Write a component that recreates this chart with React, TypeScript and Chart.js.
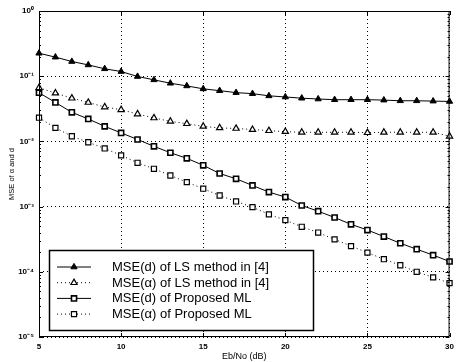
import React, { useEffect, useRef } from 'react';
import { Chart, registerables } from 'chart.js';

Chart.register(...registerables);

const ebNo = [5, 6, 7, 8, 9, 10, 11, 12, 13, 14, 15, 16, 17, 18, 19, 20, 21, 22, 23, 24, 25, 26, 27, 28, 29, 30];
const mseDLS = [0.225, 0.196, 0.168, 0.149, 0.130, 0.118, 0.099, 0.088, 0.078, 0.071, 0.064, 0.060, 0.056, 0.054, 0.050, 0.048, 0.046, 0.0447, 0.0436, 0.0436, 0.0436, 0.043, 0.042, 0.042, 0.0415, 0.041];
const mseALS = [0.0665, 0.055, 0.046, 0.0396, 0.0337, 0.0306, 0.0263, 0.0229, 0.0203, 0.0187, 0.017, 0.0161, 0.0158, 0.0152, 0.0146, 0.0141, 0.0138, 0.0138, 0.0138, 0.0138, 0.0136, 0.0138, 0.0138, 0.0138, 0.0138, 0.012];
const mseDML = [0.0557, 0.0396, 0.0279, 0.0221, 0.017, 0.0135, 0.0107, 0.0084, 0.0067, 0.0055, 0.0043, 0.00322, 0.00267, 0.00211, 0.00167, 0.0014, 0.00104, 0.00085, 0.00068, 0.000535, 0.000437, 0.000347, 0.000274, 0.000222, 0.00018, 0.000144];
const mseAML = [0.0231, 0.0161, 0.0120, 0.0097, 0.0078, 0.0061, 0.0047, 0.0038, 0.0030, 0.00237, 0.00188, 0.00148, 0.0012, 0.00098, 0.00076, 0.00062, 0.00049, 0.0004, 0.000314, 0.000248, 0.000197, 0.000156, 0.000126, 0.0001, 0.000082, 0.000067];

const seriesLabels = [
  'MSE(d) of LS method in [4]',
  'MSE(\u03b1) of LS method in [4]',
  'MSE(d) of Proposed ML',
  'MSE(\u03b1) of Proposed ML',
];
const xTicks = [5, 10, 15, 20, 25, 30];
const yExponents = [-5, -4, -3, -2, -1, 0];
const xTitle = 'Eb/No (dB)';
const yTitle = 'MSE of \u03b1 and d';

const SUP: Record<string, string> = { '-': '\u207b', '0': '\u2070', '1': '\u00b9', '2': '\u00b2', '3': '\u00b3', '4': '\u2074', '5': '\u2075' };
const FONT = '"Liberation Sans", Arial, sans-serif';

function drawMarker(ctx: CanvasRenderingContext2D, style: string, x: number, y: number, r: number) {
  ctx.beginPath();
  if (style === 'triangle') {
    let rad = 0;
    ctx.moveTo(x + Math.sin(rad) * r, y - Math.cos(rad) * r);
    rad += (2 * Math.PI) / 3;
    ctx.lineTo(x + Math.sin(rad) * r, y - Math.cos(rad) * r);
    rad += (2 * Math.PI) / 3;
    ctx.lineTo(x + Math.sin(rad) * r, y - Math.cos(rad) * r);
    ctx.closePath();
  } else {
    const s = r * Math.SQRT1_2;
    ctx.rect(x - s, y - s, 2 * s, 2 * s);
  }
}

const framePlugin = {
  id: 'frame',
  afterDraw(chart: any) {
    const { ctx, chartArea: a, scales } = chart;
    ctx.save();
    ctx.strokeStyle = '#000';
    ctx.lineWidth = 1;
    ctx.setLineDash([]);
    ctx.strokeRect(a.left + 0.5, a.top + 0.5, a.right - a.left - 1, a.bottom - a.top - 1);
    ctx.beginPath();
    for (const v of xTicks) {
      const px = Math.round(scales.x.getPixelForValue(v)) + 0.5;
      ctx.moveTo(px, a.bottom); ctx.lineTo(px, a.bottom - 4);
      ctx.moveTo(px, a.top); ctx.lineTo(px, a.top + 4);
    }
    for (const e of yExponents) {
      for (let m = 1; m <= 9; m++) {
        if (e === 0 && m > 1) break;
        const py = Math.round(scales.y.getPixelForValue(m * Math.pow(10, e))) + 0.5;
        const len = m === 1 ? 4 : 2;
        ctx.moveTo(a.left, py); ctx.lineTo(a.left + len, py);
        ctx.moveTo(a.right, py); ctx.lineTo(a.right - len, py);
      }
    }
    ctx.stroke();

    // legend box
    const bx = a.left + 10, by = a.bottom - 87, bw = 264, bh = 80;
    ctx.fillStyle = '#fff';
    ctx.fillRect(bx, by, bw, bh);
    ctx.lineWidth = 1.5;
    ctx.strokeRect(bx + 0.5, by + 0.5, bw, bh);
    ctx.font = '13px ' + FONT;
    ctx.textBaseline = 'middle';
    ctx.textAlign = 'left';
    chart.data.datasets.forEach((ds: any, i: number) => {
      const ry = by + 17 + i * 15.7;
      ctx.strokeStyle = '#000';
      ctx.lineWidth = 1;
      ctx.setLineDash(ds.borderDash || []);
      ctx.beginPath();
      ctx.moveTo(bx + 8, ry); ctx.lineTo(bx + 42, ry);
      ctx.stroke();
      ctx.setLineDash([]);
      drawMarker(ctx, ds.pointStyle, bx + 25, ry, ds.pointRadius);
      ctx.fillStyle = ds.pointBackgroundColor;
      ctx.fill();
      ctx.lineWidth = ds.pointBorderWidth;
      ctx.stroke();
      ctx.fillStyle = '#000';
      ctx.fillText(ds.label, bx + 63, ry + 0.5);
    });
    ctx.restore();
  },
};

export default function App() {
  const ref = useRef<HTMLCanvasElement>(null);
  useEffect(() => {
    document.body.style.margin = '0';
    const mk = (vals: number[]) => ebNo.map((x, i) => ({ x, y: vals[i] }));
    const chart = new Chart(ref.current!, {
      type: 'line',
      data: {
        datasets: [
          { label: seriesLabels[0], data: mk(mseDLS), borderColor: '#000', borderWidth: 1, borderDash: [], pointStyle: 'triangle', pointRadius: 3.6, pointBackgroundColor: '#000', pointBorderColor: '#000', pointBorderWidth: 1, clip: false },
          { label: seriesLabels[1], data: mk(mseALS), borderColor: '#000', borderWidth: 1, borderDash: [1, 3], pointStyle: 'triangle', pointRadius: 3.6, pointBackgroundColor: '#fff', pointBorderColor: '#000', pointBorderWidth: 1.2, clip: false },
          { label: seriesLabels[2], data: mk(mseDML), borderColor: '#000', borderWidth: 1, borderDash: [], pointStyle: 'rect', pointRadius: 3.6, pointBackgroundColor: '#fff', pointBorderColor: '#000', pointBorderWidth: 1.6, clip: false },
          { label: seriesLabels[3], data: mk(mseAML), borderColor: '#000', borderWidth: 1, borderDash: [1, 3], pointStyle: 'rect', pointRadius: 3.6, pointBackgroundColor: '#fff', pointBorderColor: '#000', pointBorderWidth: 1.2, clip: false },
        ] as any,
      },
      options: {
        animation: false,
        responsive: false,
        layout: { padding: { top: 11, right: 4, left: 0, bottom: 0 } },
        plugins: { legend: { display: false }, tooltip: { enabled: false } },
        scales: {
          x: {
            type: 'linear',
            min: 5,
            max: 30,
            afterBuildTicks: (s: any) => { s.ticks = xTicks.map((v) => ({ value: v })); },
            afterFit: (s: any) => { s.height = 25; },
            ticks: { color: '#000', padding: 5, font: { family: FONT, size: 8, weight: 'bold' }, maxRotation: 0 },
            grid: { color: '#000', lineWidth: 1, drawTicks: false },
            border: { display: false, dash: [1, 3] },
            title: { display: true, text: xTitle, color: '#000', padding: 0, font: { family: FONT, size: 9 } },
          },
          y: {
            type: 'logarithmic',
            min: 1e-5,
            max: 1,
            afterBuildTicks: (s: any) => { s.ticks = yExponents.map((e) => ({ value: Math.pow(10, e) })); },
            afterFit: (s: any) => { s.width = 39; },
            ticks: {
              color: '#000',
              padding: 5,
              font: { family: FONT, size: 8, weight: 'bold' },
              callback: (v: any) => {
                const e = Math.round(Math.log10(Number(v)));
                return '10' + String(e).split('').map((c) => SUP[c]).join('');
              },
            },
            grid: { color: '#000', lineWidth: 1, drawTicks: false },
            border: { display: false, dash: [1, 3] },
            title: { display: true, text: yTitle, color: '#000', padding: { top: 7, bottom: 0 }, font: { family: FONT, size: 7.5 } },
          },
        },
      },
      plugins: [framePlugin],
    });
    return () => chart.destroy();
  }, []);
  return (
    <div style={{ width: 459, height: 362 }}>
      <canvas ref={ref} width={459} height={362} style={{ display: 'block' }} />
    </div>
  );
}
